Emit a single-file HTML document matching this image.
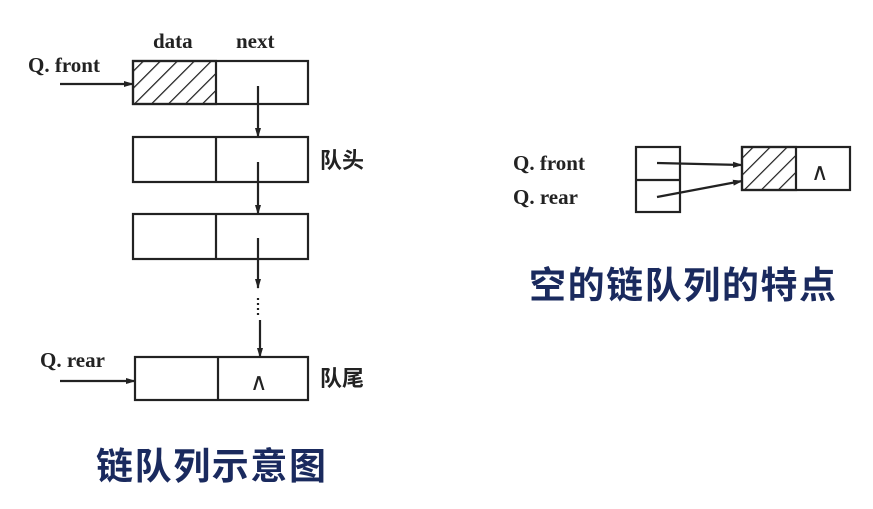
<!DOCTYPE html>
<html><head><meta charset="utf-8"><style>
html,body{margin:0;padding:0;background:#fff;width:873px;height:509px;overflow:hidden}
</style></head><body>
<svg width="873" height="509" xmlns="http://www.w3.org/2000/svg">
<defs>
<pattern id="h" patternUnits="userSpaceOnUse" width="12" height="12" patternTransform="rotate(45)">
<rect width="12" height="12" fill="#fff"/><line x1="0" y1="0" x2="0" y2="12" stroke="#222" stroke-width="2.5"/></pattern>
<marker id="a" markerWidth="10" markerHeight="8" refX="9" refY="4" orient="auto" markerUnits="userSpaceOnUse"><path d="M0,1 L10,4 L0,7 Z" fill="#222"/></marker>
</defs>
<g stroke="#222" stroke-width="2.2" fill="none">
<rect x="133" y="61" width="83" height="43" fill="url(#h)"/>
<rect x="133" y="61" width="175" height="43"/>
<rect x="133" y="137" width="175" height="45"/><line x1="216" y1="137" x2="216" y2="182"/>
<rect x="133" y="214" width="175" height="45"/><line x1="216" y1="214" x2="216" y2="259"/>
<rect x="135" y="357" width="173" height="43"/><line x1="218" y1="357" x2="218" y2="400"/>
<line x1="258" y1="86" x2="258" y2="137" marker-end="url(#a)"/>
<line x1="258" y1="162" x2="258" y2="214" marker-end="url(#a)"/>
<line x1="258" y1="238" x2="258" y2="288" marker-end="url(#a)"/>
<line x1="258" y1="298" x2="258" y2="318" stroke-dasharray="2,3"/>
<line x1="260" y1="320" x2="260" y2="357" marker-end="url(#a)"/>
<line x1="60" y1="84" x2="133" y2="84" marker-end="url(#a)"/>
<line x1="60" y1="381" x2="135" y2="381" marker-end="url(#a)"/>
<rect x="636" y="147" width="44" height="65"/><line x1="636" y1="180" x2="680" y2="180"/>
<rect x="742" y="147" width="54" height="43" fill="url(#h)"/>
<rect x="742" y="147" width="108" height="43"/>
<line x1="657" y1="163" x2="742" y2="165" marker-end="url(#a)"/>
<line x1="657" y1="197" x2="742" y2="181" marker-end="url(#a)"/>
</g>
<g font-family="Liberation Serif, serif" font-weight="bold" font-size="21" fill="#222">
<text x="153" y="48">data</text><text x="236" y="48">next</text>
<text x="28" y="72">Q. front</text><text x="40" y="367">Q. rear</text>
<text x="513" y="170">Q. front</text><text x="513" y="204">Q. rear</text>
<text x="250" y="390" font-family="Liberation Sans, sans-serif" font-weight="normal" font-size="24">∧</text>
<text x="811" y="180" font-family="Liberation Sans, sans-serif" font-weight="normal" font-size="24">∧</text>
</g>
<g font-family="Liberation Sans, 'Noto Sans CJK SC', sans-serif" font-size="22" font-weight="bold" fill="#222">
<text x="320" y="168">队头</text><text x="320" y="386">队尾</text>
</g>
<g font-family="Liberation Sans, 'Noto Sans CJK SC', sans-serif" font-size="37" font-weight="bold" fill="#1a2a5e">
<text x="96" y="479" textLength="230">链队列示意图</text>
<text x="529" y="298" textLength="307">空的链队列的特点</text>
</g>
</svg>
</body></html>
